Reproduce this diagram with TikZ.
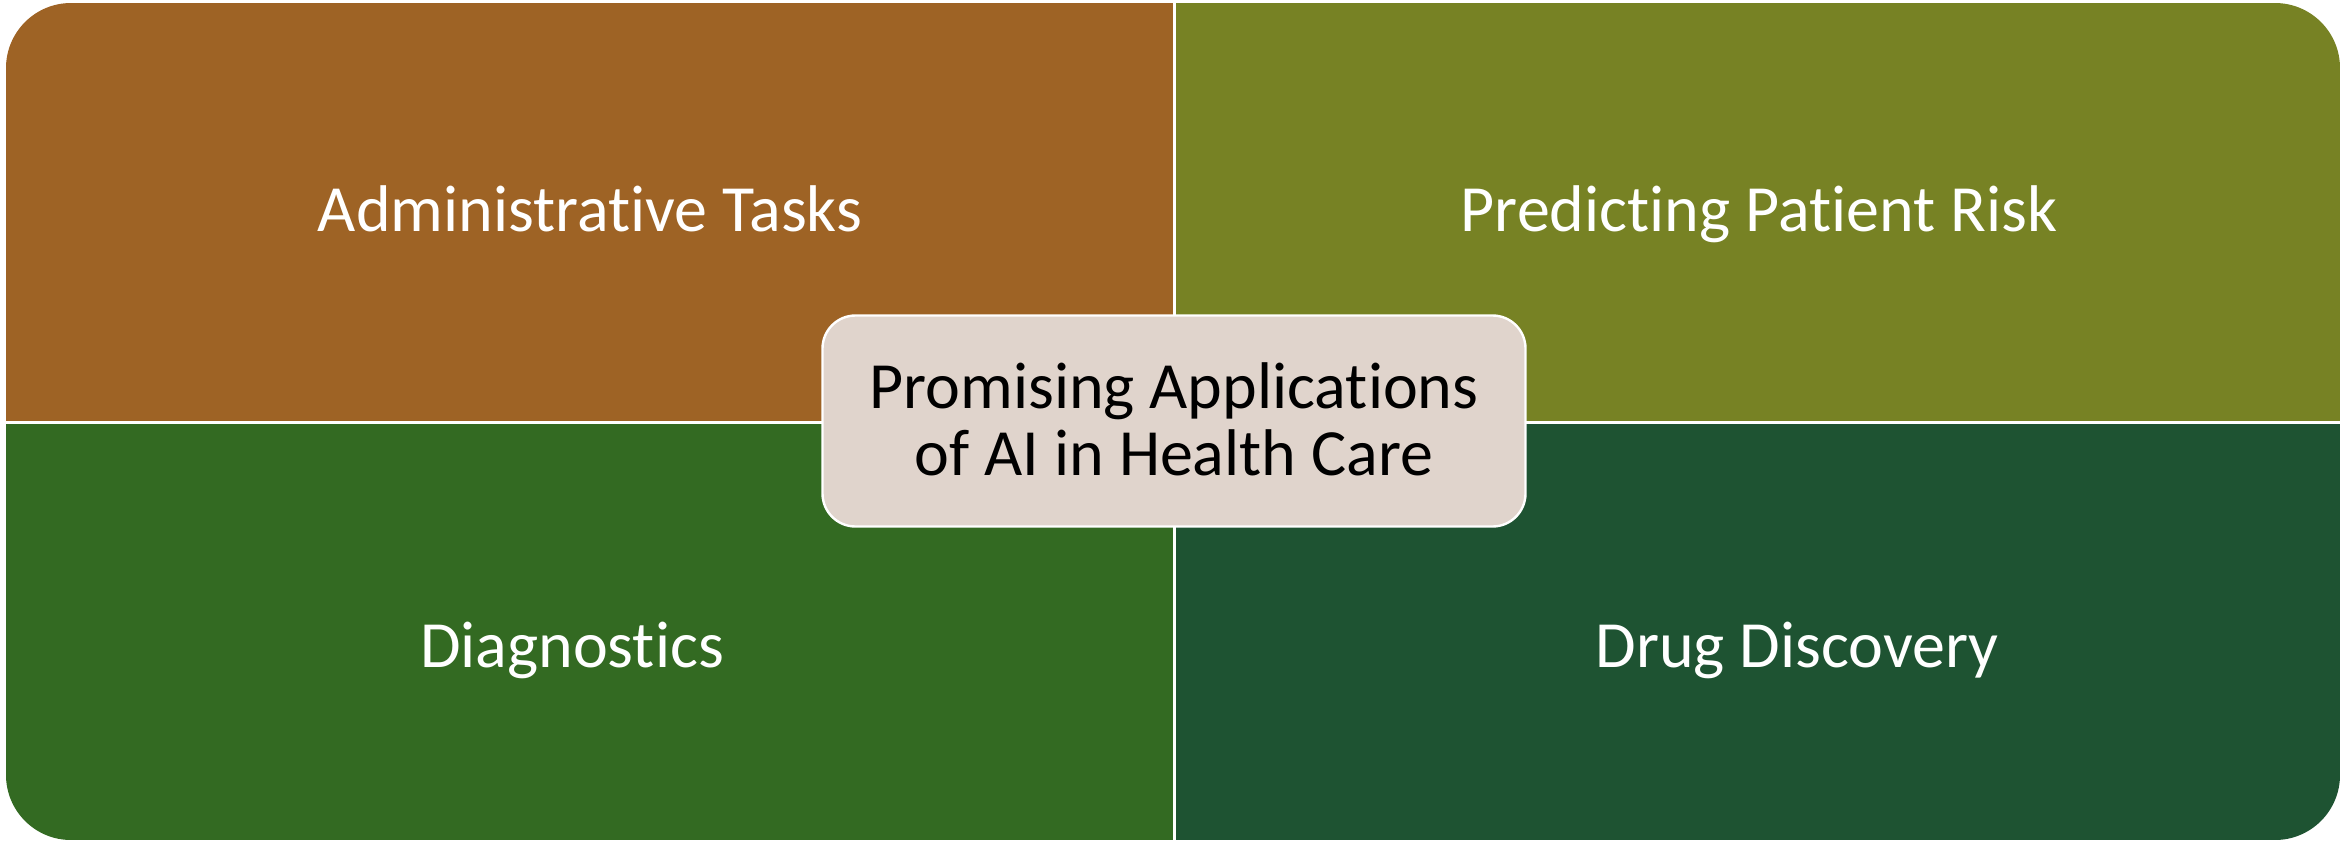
\documentclass[tikz,border=0pt]{standalone}
\usepackage{fontspec}
\setmainfont[Ligatures=NoCommon]{Carlito}
\definecolor{adminbrown}{HTML}{9E6325}
\definecolor{riskolive}{HTML}{778224}
\definecolor{diaggreen}{HTML}{336A22}
\definecolor{druggreen}{HTML}{1E5332}
\definecolor{hubfill}{HTML}{E0D4CC}
\tikzset{
    quadtext/.style={text=white, anchor=base, font=\fontsize{33}{40}\selectfont},
    hubbox/.style={draw=white, line width=1.2pt, fill=hubfill, rounded corners=16.5pt,
        minimum width=351.5pt, minimum height=105.5pt, align=center,
        font=\fontsize{33}{33.5}\selectfont}
}
\begin{document}
\begin{tikzpicture}[x=0.5pt,y=-0.5pt]
    \useasboundingbox (0,0) rectangle (2341,842);

    % Cuadrantes
    \begin{scope}
        \clip[rounded corners=32.5pt] (6,3) rectangle (2340,840);
        \foreach \col/\xa/\ya/\xb/\yb in {
            adminbrown/6/3/1173/421,
            riskolive/1176/3/2340/421,
            diaggreen/6/424/1173/840,
            druggreen/1176/424/2340/840
            } {
            \fill[\col] (\xa,\ya) rectangle (\xb,\yb);
        }
    \end{scope}

    % Textos de los cuadrantes
    \foreach \n/\x/\y/\txt in {
        admin/590/231/Administrative Tasks,
        risk/1759/231/Predicting Patient Risk,
        diag/572/667/Diagnostics,
        drug/1797/667/Drug Discovery
        } {
        \node[quadtext] (\n) at (\x,\y) {\txt};
    }

    % Centro
    \node[hubbox] (hub) at (1174,421) {Promising Applications\\of AI in Health Care\vspace{2pt}};
\end{tikzpicture}
\end{document}
